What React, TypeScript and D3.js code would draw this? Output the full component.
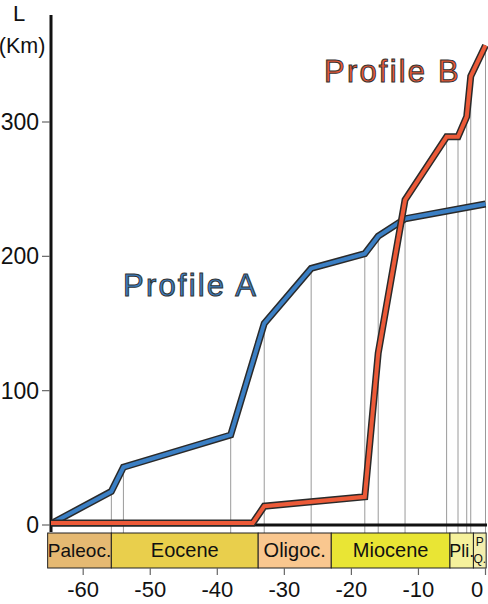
import React from 'react';
import * as d3 from 'd3';

// Profile A (blue): age in Ma, length in km
const ageA = [-64.4, -55.8, -54, -38, -33, -26, -18, -16, -12, 0];
const kmA = [2, 25, 43, 67, 150, 191, 202, 215, 228, 239];

// Profile B (red)
const ageB = [-64.8, -34.7, -33, -18, -16, -12, -5.8, -4.1, -2.8, -2.2, 0];
const kmB = [1.5, 1.5, 14, 21, 128, 242, 289, 289, 304, 334, 357];

// vertical guide lines (ages of knees)
const guideAges = [-55.8, -54, -38, -33, -26, -18, -16, -12, -5.8, -4.1, -2.8, -2.2, 0];

const ageTicks = [-60, -50, -40, -30, -20, -10, 0];
const kmTicks = [0, 100, 200, 300];

const epochNames = ['Paleoc.', 'Eocene', 'Oligoc.', 'Miocene', 'Pli.', 'PQ'];
const epochStart = [-65.3, -55.8, -33.9, -23, -5.3, -1.8];
const epochEnd = [-55.8, -33.9, -23, -5.3, -1.8, 0.1];
const epochColors = ['#e5b972', '#e9cf4c', '#f9c78f', '#e9e534', '#f5f19c', '#f3eeae'];

const blue = '#3b7fc4';
const red = '#ec5a38';

const W = 488;
const H = 604;

export default function App() {
  const x = d3.scaleLinear().domain([-64.8, 0]).range([51, 485.5]);
  const y = d3.scaleLinear().domain([0, 300]).range([525, 122]);

  const line = d3
    .line<[number, number]>()
    .x(d => x(d[0]))
    .y(d => y(d[1]));

  const ptsA = ageA.map((a, i) => [a, kmA[i]] as [number, number]);
  const ptsB = ageB.map((a, i) => [a, kmB[i]] as [number, number]);

  // top of a guide line = highest profile knee at that age
  const topAt = (age: number) => {
    let v = 0;
    const ia = ageA.indexOf(age);
    const ib = ageB.indexOf(age);
    if (ia >= 0) v = Math.max(v, kmA[ia]);
    if (ib >= 0) v = Math.max(v, kmB[ib]);
    return v;
  };

  const barTop = 533;
  const barBot = 568;
  const font = 'Liberation Sans, Arial, sans-serif';

  return (
    <svg width={W} height={H} style={{ position: 'absolute', left: 0, top: 0 }} fontFamily={font}>
      <rect width={W} height={H} fill="#fff" />

      {/* guide lines */}
      {guideAges.map(a => (
        <line key={a} x1={x(a)} x2={x(a)} y1={y(topAt(a))} y2={barTop} stroke="#9a9a9a" strokeWidth={1} />
      ))}

      {/* axes */}
      <line x1={51} x2={51} y1={15} y2={532} stroke="#111" strokeWidth={3} />
      <line x1={50} x2={487} y1={y(0)} y2={y(0)} stroke="#111" strokeWidth={3} />
      {kmTicks.map(t => (
        <g key={t}>
          <line x1={42} x2={50} y1={y(t)} y2={y(t)} stroke="#666" strokeWidth={1.2} />
          <text x={39} y={y(t) + 8} fontSize={23} textAnchor="end" fill="#111">{t}</text>
        </g>
      ))}
      <text x={19} y={21} fontSize={22} textAnchor="middle" fill="#111">L</text>
      <text x={22} y={53} fontSize={21.5} textAnchor="middle" fill="#111">(Km)</text>

      {/* profiles */}
      <path d={line(ptsA) || ''} fill="none" stroke="#2a2a2a" strokeWidth={7} strokeLinejoin="miter" />
      <path d={line(ptsA) || ''} fill="none" stroke={blue} strokeWidth={4} strokeLinejoin="miter" />
      <path d={line(ptsB) || ''} fill="none" stroke="#2a2a2a" strokeWidth={7} strokeLinejoin="miter" />
      <path d={line(ptsB) || ''} fill="none" stroke={red} strokeWidth={4} strokeLinejoin="miter" />

      <text x={123} y={296} fontSize={31} letterSpacing={2.2} fill={blue} stroke="#333" strokeWidth={1}>Profile A</text>
      <text x={324} y={82} fontSize={31} letterSpacing={2.2} fill={red} stroke="#333" strokeWidth={1}>Profile B</text>

      {/* epoch bar */}
      {epochNames.map((n, i) => {
        const x0 = x(epochStart[i]);
        const x1 = x(epochEnd[i]);
        const cx = (x0 + x1) / 2;
        return (
          <g key={n}>
            <rect x={x0} y={barTop} width={x1 - x0} height={barBot - barTop} fill={epochColors[i]} stroke="#222" strokeWidth={1} />
            {n === 'PQ' ? (
              <>
                <text x={cx} y={barTop + 13} fontSize={12} textAnchor="middle" fill="#111">P</text>
                <text x={cx} y={barTop + 30} fontSize={12} textAnchor="middle" fill="#111">Q.</text>
              </>
            ) : (
              <text
                x={cx}
                y={557}
                fontSize={n === 'Paleoc.' ? 19 : n === 'Pli.' ? 18 : 20}
                textAnchor="middle"
                fill="#111"
              >
                {n}
              </text>
            )}
          </g>
        );
      })}

      {/* x ticks */}
      {ageTicks.map(t => (
        <g key={t}>
          <line x1={x(t)} x2={x(t)} y1={barBot} y2={575} stroke="#666" strokeWidth={1.2} />
          <text x={Math.min(x(t), W - 11)} y={597} fontSize={22} textAnchor="middle" fill="#111">{t}</text>
        </g>
      ))}
    </svg>
  );
}
